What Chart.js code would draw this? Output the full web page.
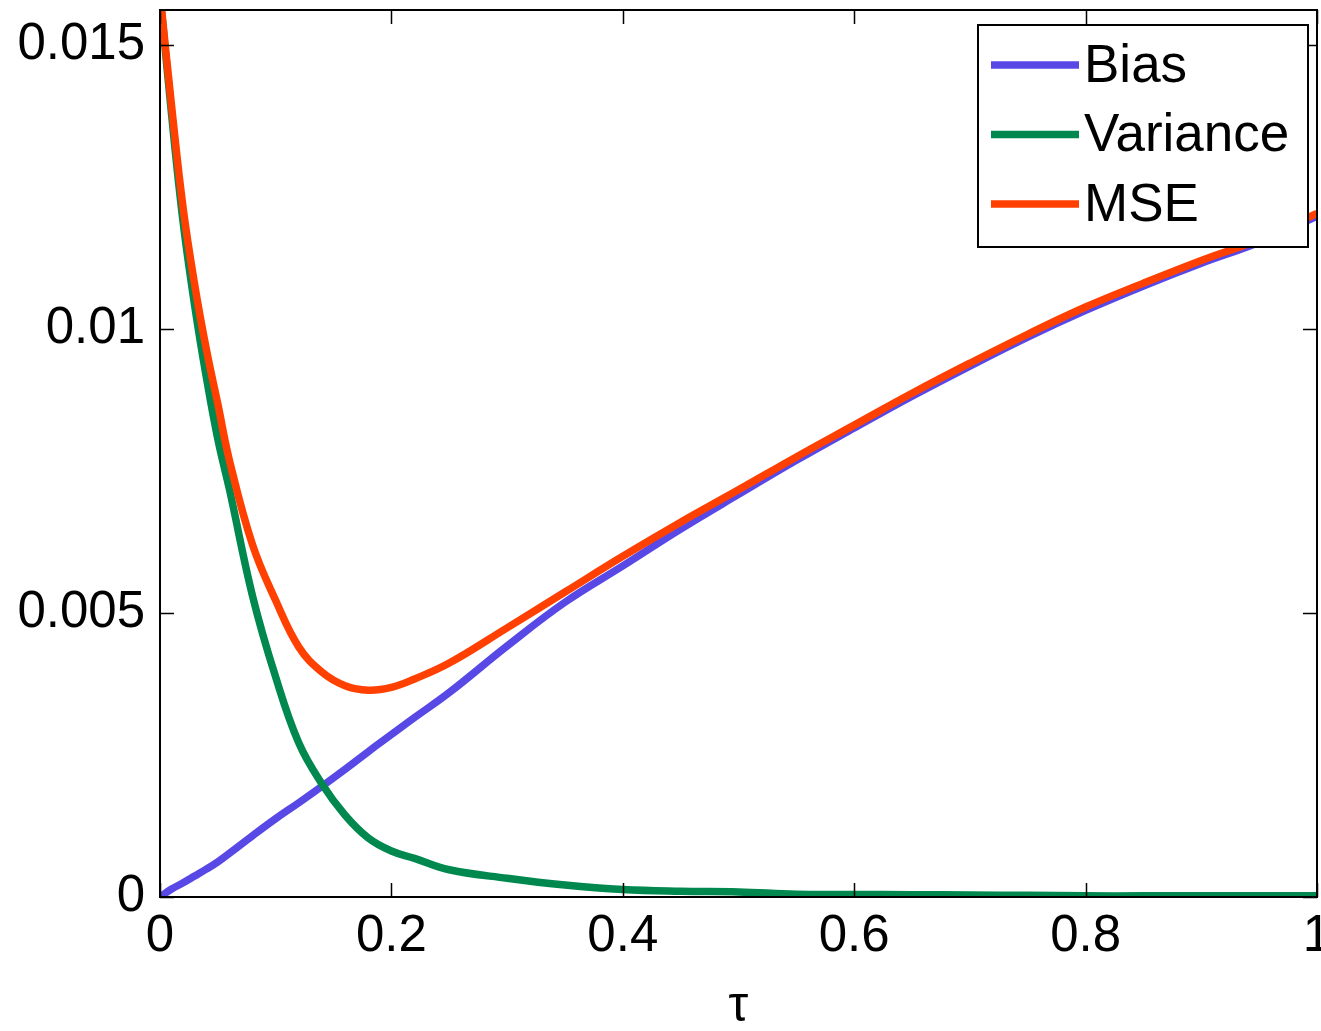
<!DOCTYPE html>
<html>
<head>
<meta charset="utf-8">
<script src="https://cdn.jsdelivr.net/npm/chart.js@4.4.1/dist/chart.umd.min.js"></script>
<style>
  html, body { margin: 0; padding: 0; background: #ffffff; }
  #wrap { width: 1321px; height: 1031px; position: relative; }
</style>
</head>
<body>
<div id="wrap"><canvas id="chart"></canvas></div>
<script>
// values (y in absolute units)
const tauValues = [0, 0.01, 0.02, 0.03, 0.04, 0.05, 0.06, 0.08, 0.1, 0.12, 0.14, 0.16, 0.18, 0.2, 0.22, 0.25,
  0.3, 0.35, 0.4, 0.45, 0.5, 0.55, 0.6, 0.65, 0.7, 0.75, 0.8, 0.85, 0.9, 0.95, 1.0];

const biasValues = [0, 0.00014, 0.00025, 0.00037, 0.00049, 0.00062, 0.00077, 0.00108, 0.00138, 0.00166, 0.00195,
  0.00225, 0.00256, 0.00286, 0.00316, 0.0036, 0.00442, 0.00519, 0.00583, 0.00648, 0.00709, 0.00769, 0.00826,
  0.00882, 0.00935, 0.00986, 0.01033, 0.01076, 0.01116, 0.01153, 0.01199];

const varianceValues = [0.0159, 0.01378, 0.01188, 0.01041, 0.00916, 0.00806, 0.00718, 0.0053, 0.00387, 0.00271,
  0.00199, 0.00144, 0.00104, 0.00081, 0.00068, 0.00048, 0.00033, 0.00021, 0.00013, 0.0001, 0.00009, 0.00005,
  0.000045, 0.00004, 0.000035, 0.00003, 0.00002, 0.00002, 0.00002, 0.00002, 0.00002];

const mseValues = [0.0159, 0.01393, 0.01213, 0.01078, 0.00965, 0.00868, 0.00769, 0.0062, 0.00522, 0.0044,
  0.00396, 0.00372, 0.00364, 0.00369, 0.00384, 0.00412, 0.00474, 0.00537, 0.006, 0.0066, 0.00717, 0.00775,
  0.00831, 0.00887, 0.0094, 0.00991, 0.01039, 0.01081, 0.01121, 0.01158, 0.01204];

const seriesLabels = ['Bias', 'Variance', 'MSE'];
const seriesColors = ['#5849e6', '#00884e', '#ff4000'];

const xTickValues = [0, 0.2, 0.4, 0.6, 0.8, 1];
const xTickLabels = ['0', '0.2', '0.4', '0.6', '0.8', '1'];
const yTickValues = [0, 0.005, 0.01, 0.015];
const yTickLabels = ['0', '0.005', '0.01', '0.015'];

const FONT = 'Helvetica, "Liberation Sans", Arial, sans-serif';

function toPoints(ys) {
  return tauValues.map((t, i) => ({ x: t, y: ys[i] }));
}

// matlab style box, inward ticks on all four sides
const axesBoxPlugin = {
  id: 'axesBox',
  afterDatasetsDraw(chart) {
    const { ctx, chartArea: a, scales } = chart;
    const len = 14;
    ctx.save();
    ctx.strokeStyle = '#000000';
    ctx.lineWidth = 1.5;
    ctx.beginPath();
    xTickValues.forEach(v => {
      const x = Math.round(scales.x.getPixelForValue(v)) + 0.5;
      ctx.moveTo(x, a.bottom); ctx.lineTo(x, a.bottom - len);
      ctx.moveTo(x, a.top); ctx.lineTo(x, a.top + len);
    });
    yTickValues.forEach(v => {
      const y = Math.round(scales.y.getPixelForValue(v)) + 0.5;
      ctx.moveTo(a.left, y); ctx.lineTo(a.left + len, y);
      ctx.moveTo(a.right, y); ctx.lineTo(a.right - len, y);
    });
    ctx.stroke();
    ctx.lineWidth = 2;
    ctx.strokeRect(a.left, a.top, a.right - a.left, a.bottom - a.top);
    ctx.restore();
  }
};

// legend box inside the axes, top right
const boxLegendPlugin = {
  id: 'boxLegend',
  afterDraw(chart) {
    const ctx = chart.ctx;
    const left = 978, top = 25, w = 330, h = 222;
    ctx.save();
    ctx.fillStyle = '#ffffff';
    ctx.fillRect(left, top, w, h);
    ctx.strokeStyle = '#000000';
    ctx.lineWidth = 2;
    ctx.strokeRect(left, top, w, h);
    ctx.font = '53px ' + FONT;
    ctx.textAlign = 'left';
    ctx.textBaseline = 'middle';
    chart.data.datasets.forEach((ds, i) => {
      const y = 65 + i * 69.5;
      ctx.strokeStyle = ds.borderColor;
      ctx.lineWidth = 7.5;
      ctx.beginPath();
      ctx.moveTo(991, y);
      ctx.lineTo(1079, y);
      ctx.stroke();
      ctx.fillStyle = '#000000';
      ctx.fillText(ds.label, 1084, y + 2);
    });
    ctx.restore();
  }
};

new Chart(document.getElementById('chart'), {
  type: 'line',
  data: {
    datasets: [
      { label: seriesLabels[0], data: toPoints(biasValues), borderColor: seriesColors[0], order: 3 },
      { label: seriesLabels[1], data: toPoints(varianceValues), borderColor: seriesColors[1], order: 2 },
      { label: seriesLabels[2], data: toPoints(mseValues), borderColor: seriesColors[2], order: 1 }
    ]
  },
  plugins: [axesBoxPlugin, boxLegendPlugin],
  options: {
    responsive: true,
    maintainAspectRatio: false,
    animation: false,
    layout: { padding: { top: 10, right: 4, left: 0, bottom: 0 } },
    datasets: {
      line: {
        borderWidth: 7.5,
        pointRadius: 0,
        tension: 0.4,
        fill: false,
        clip: 0
      }
    },
    plugins: {
      legend: { display: false },
      tooltip: { enabled: false }
    },
    scales: {
      x: {
        type: 'linear',
        min: 0,
        max: 1,
        border: { display: false },
        grid: { display: false, drawTicks: false },
        afterBuildTicks: s => { s.ticks = xTickValues.map(v => ({ value: v })); },
        afterFit: s => { s.height = 134; s.paddingLeft = 0; s.paddingRight = 0; },
        ticks: {
          autoSkip: false,
          maxRotation: 0,
          padding: 9,
          color: '#000000',
          font: { family: FONT, size: 51 },
          callback: (v, i) => xTickLabels[i]
        },
        title: {
          display: true,
          text: 'τ',
          color: '#000000',
          font: { family: FONT, size: 50 },
          padding: { top: 0, bottom: -6 }
        }
      },
      y: {
        type: 'linear',
        min: 0,
        max: 0.01562,
        border: { display: false },
        grid: { display: false, drawTicks: false },
        afterBuildTicks: s => { s.ticks = yTickValues.map(v => ({ value: v })); },
        afterFit: s => { s.width = 160; s.paddingTop = 0; s.paddingBottom = 0; },
        ticks: {
          padding: 15,
          color: '#000000',
          font: { family: FONT, size: 51 },
          callback: (v, i) => yTickLabels[i]
        }
      }
    }
  }
});
</script>
</body>
</html>
